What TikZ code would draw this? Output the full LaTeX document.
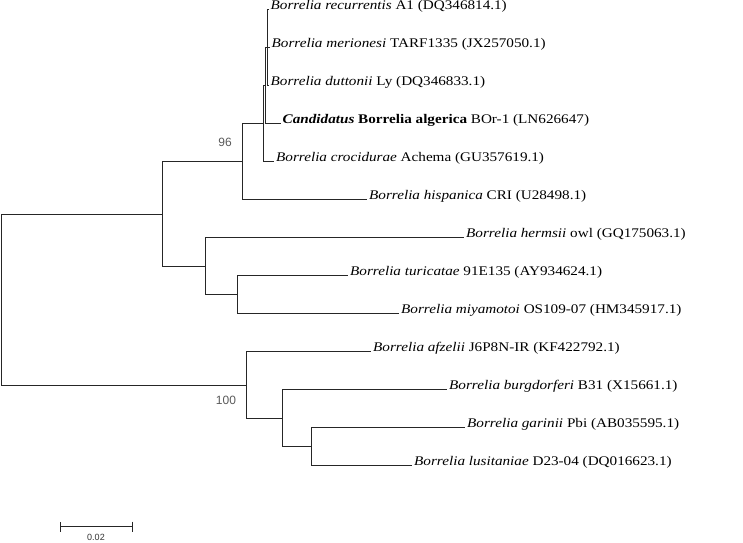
\documentclass[tikz,border=0pt]{standalone}
\usepackage{fontspec}
\setmainfont{Liberation Serif}[FakeStretch=1.15]
\newfontfamily\supfont{Liberation Sans}
\usetikzlibrary{arrows.meta}
\tikzset{leaf/.style={anchor=base west,inner sep=0pt,inner xsep=2pt,font=\fontsize{13.2}{16}\selectfont},
boot/.style={inner sep=0pt,text=black!65,font=\supfont\fontsize{12}{14}\selectfont},
branch/.style={draw=black!85,line width=0.9pt}}
\tikzstyle{scalebar} = [draw=black!85,line width=1pt,{Bar[width=10pt]}-{Bar[width=10pt]}]

\begin{document}
\begin{tikzpicture}[x=1pt,y=-1pt]
	\useasboundingbox (0,0) rectangle (743,542);
	% leaves
	\node[leaf] (rec) at (268.5,9.7) {\textit{Borrelia recurrentis} A1 (DQ346814.1)};
	\node[leaf] (mer) at (269.5,47.7) {\textit{Borrelia merionesi} TARF1335 (JX257050.1)};
	\node[leaf] (dut) at (268.5,85.7) {\textit{Borrelia duttonii} Ly (DQ346833.1)};
	\node[leaf] (cand) at (280.5,123.7) {\textbf{\textit{Candidatus} Borrelia algerica} BOr-1 (LN626647)};
	\node[leaf] (croc) at (274,161.7) {\textit{Borrelia crocidurae} Achema (GU357619.1)};
	\node[leaf] (hisp) at (367,199.7) {\textit{Borrelia hispanica} CRI (U28498.1)};
	\node[leaf] (herm) at (464,237.7) {\textit{Borrelia hermsii} owl (GQ175063.1)};
	\node[leaf] (turi) at (348,275.7) {\textit{Borrelia turicatae} 91E135 (AY934624.1)};
	\node[leaf] (miya) at (399,313.7) {\textit{Borrelia miyamotoi} OS109-07 (HM345917.1)};
	\node[leaf] (afz) at (371,351.7) {\textit{Borrelia afzelii} J6P8N-IR (KF422792.1)};
	\node[leaf] (burg) at (447,389.7) {\textit{Borrelia burgdorferi} B31 (X15661.1)};
	\node[leaf] (gar) at (465,427.7) {\textit{Borrelia garinii} Pbi (AB035595.1)};
	\node[leaf] (lus) at (412,465.7) {\textit{Borrelia lusitaniae} D23-04 (DQ016623.1)};
	% internal nodes
	\coordinate (nA) at (267,47.7);
	\coordinate (nB) at (265,85.7);
	\coordinate (nC) at (263,123.7);
	\coordinate (nD) at (242,161.7);
	\coordinate (nG) at (237.5,294.7);
	\coordinate (nF) at (205.5,266.2);
	\coordinate (nE) at (162,214);
	\coordinate (nJ) at (311.5,446.7);
	\coordinate (nI) at (282.5,418.2);
	\coordinate (nH) at (246.5,385);
	\coordinate (root) at (1,299.5);
	% branches
	\draw[branch] (nA) |- (rec.base west);
	\draw[branch] (nA) |- (mer.base west);
	\draw[branch] (nA) |- (dut.base west);
	\draw[branch] (nB) |- (nA);
	\draw[branch] (nB) |- (cand.base west);
	\draw[branch] (nC) |- (nB);
	\draw[branch] (nC) |- (croc.base west);
	\draw[branch] (nD) |- (nC);
	\draw[branch] (nD) |- (hisp.base west);
	\draw[branch] (nG) |- (turi.base west);
	\draw[branch] (nG) |- (miya.base west);
	\draw[branch] (nF) |- (herm.base west);
	\draw[branch] (nF) |- (nG);
	\draw[branch] (nE) |- (nD);
	\draw[branch] (nE) |- (nF);
	\draw[branch] (nJ) |- (gar.base west);
	\draw[branch] (nJ) |- (lus.base west);
	\draw[branch] (nI) |- (burg.base west);
	\draw[branch] (nI) |- (nJ);
	\draw[branch] (nH) |- (afz.base west);
	\draw[branch] (nH) |- (nI);
	\draw[branch] (root) |- (nE);
	\draw[branch] (root) |- (nH);
	% bootstrap values
	\node[boot] (bsD) at (225,142) {96};
	\node[boot] (bsH) at (226,400.5) {100};
	% scale bar
	\coordinate (sbl) at (59.5,526.5);
	\coordinate (sbr) at (133,526.5);
	\draw[scalebar] (sbl) -- (sbr);
	\node[boot,text=black!80,font=\supfont\fontsize{9}{10}\selectfont] (sbtext) at (96,537.5) {0.02};
\end{tikzpicture}
\end{document}
